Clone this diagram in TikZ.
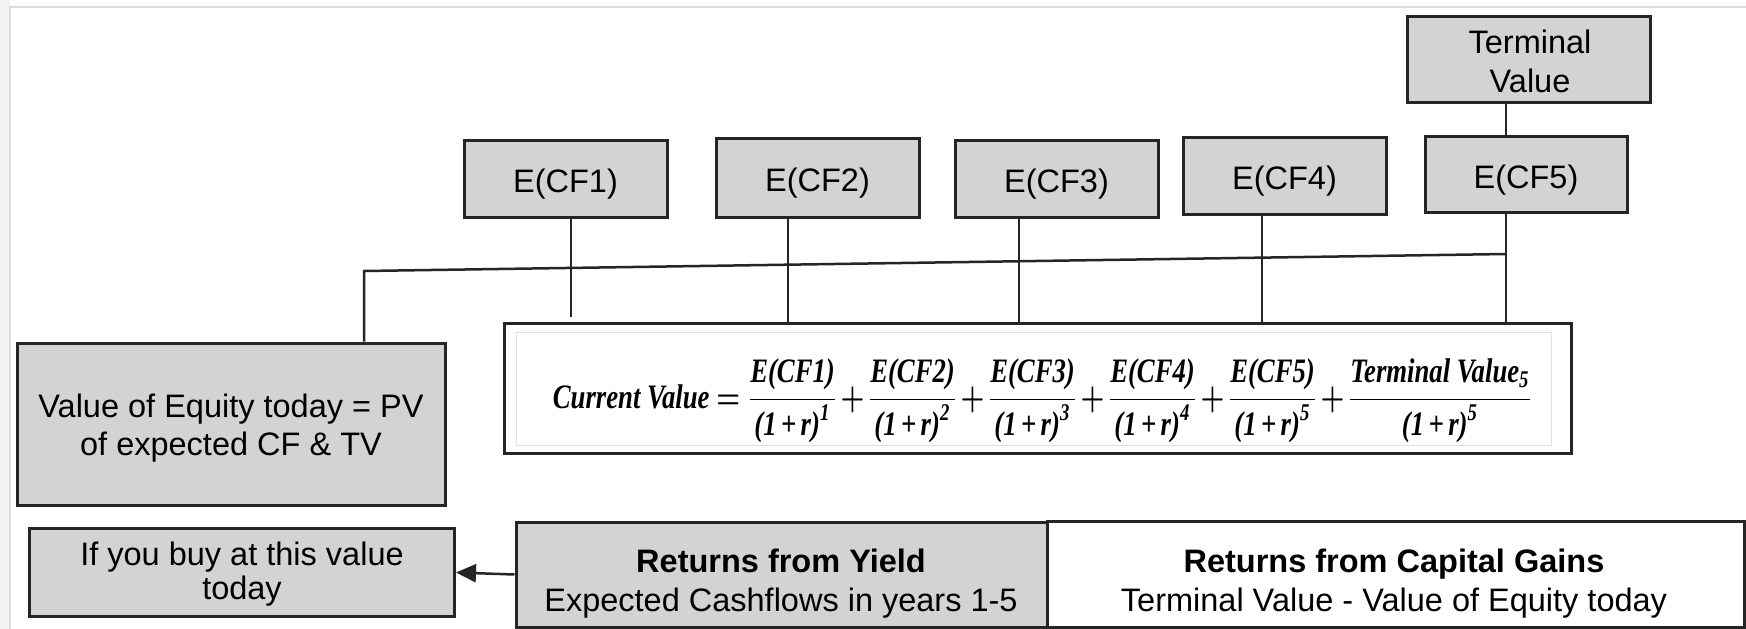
\documentclass[tikz,border=0pt]{standalone}
\usepackage[no-math]{fontspec}
\usepackage{graphicx}
\usepackage{amsmath}
\usetikzlibrary{arrows.meta,calc}
\newfontfamily\arial{Liberation Sans}
\newfontfamily\eqfont{Liberation Serif}
\definecolor{boxgray}{HTML}{D3D3D3}
\definecolor{edge}{HTML}{252525}
\definecolor{framegray}{HTML}{DCDCDC}
\newcommand{\eqt}[1]{\text{\eqfont\bfseries\itshape #1}}
\newcommand{\dcf}[2]{\dfrac{\eqt{#1}}{\eqt{(1\,+\,r)}^{\eqt{#2}}}}

\begin{document}
\begin{tikzpicture}[x=1pt,y=-1pt,
  box/.style={draw=edge, line width=3pt, fill=boxgray, inner sep=0pt},
  wbox/.style={box, fill=white},
  txt/.style={inner sep=0pt, anchor=base, font=\arial\fontsize{32.5}{38}\selectfont},
  btxt/.style={txt, font=\arial\bfseries\fontsize{32.5}{38}\selectfont},
  link/.style={draw=edge, line width=2.5pt},
]
\useasboundingbox (0,0) rectangle (1746,629);
\fill[white] (0,0) rectangle (1746,629);
\fill[black!5] (0,0) rectangle (10,629);
\draw[framegray, line width=1.5pt] (10,629) -- (10,7) -- (1746,7);

% top row: expected cash flows and terminal value
\node[box, minimum width=243pt, minimum height=86pt] (tv)  at (1528.5,59)  {};
\node[box, minimum width=202pt, minimum height=76pt] (cf5) at (1526,174)   {};
\node[box, minimum width=203pt, minimum height=77pt] (cf4) at (1284.5,175.5) {};
\node[box, minimum width=203pt, minimum height=77pt] (cf3) at (1056.5,178.5) {};
\node[box, minimum width=203pt, minimum height=79pt] (cf2) at (817.5,177.5) {};
\node[box, minimum width=203pt, minimum height=77pt] (cf1) at (565.5,178.5) {};
\node[txt] (tv-a) at (1530,53.5) {Terminal};
\node[txt] (tv-b) at (1530,92) {Value};
\node[txt] (cf5-t) at (1526,188) {E(CF5)};
\node[txt] (cf4-t) at (1284.5,189.5) {E(CF4)};
\node[txt] (cf3-t) at (1056.5,192.5) {E(CF3)};
\node[txt] (cf2-t) at (817.5,191.5) {E(CF2)};
\node[txt] (cf1-t) at (565.5,192.5) {E(CF1)};

% valuation formula
\node[wbox, minimum width=1067pt, minimum height=130pt] (eq) at (1037.5,388) {};
\draw[black!12, line width=1pt] (516,332) rectangle (1551,445);
\node[inner sep=0pt] (eqtxt) at (1043,401) {\resizebox*{980pt}{84pt}{\boldmath
  \thickmuskip=4mu \medmuskip=1.5mu $
  \eqt{Current Value} = \dcf{E(CF1)}{1} + \dcf{E(CF2)}{2} + \dcf{E(CF3)}{3}
  + \dcf{E(CF4)}{4} + \dcf{E(CF5)}{5} + \dfrac{\eqt{Terminal Value}_{\eqt{5}}}{\eqt{(1\,+\,r)}^{\eqt{5}}}$}};

% left column
\node[box, minimum width=428pt, minimum height=162pt] (ve) at (231,424) {};
\node[txt] (ve-a) at (231,417) {Value of Equity today = PV};
\node[txt] (ve-b) at (231,455) {of expected CF \& TV};
\node[box, minimum width=425pt, minimum height=88pt] (buy) at (242,572.5) {};
\node[txt] (buy-a) at (242,565) {If you buy at this value};
\node[txt] (buy-b) at (242,599) {today};

% bottom row: sources of return
\node[box, minimum width=531pt, minimum height=105pt] (yield) at (781.5,574.5) {};
\node[btxt] (yield-a) at (781,572) {Returns from Yield};
\node[txt] (yield-b) at (781,611) {Expected Cashflows in years 1-5};
\node[wbox, minimum width=697pt, minimum height=106pt] (capg) at (1395.5,574) {};
\node[btxt] (capg-a) at (1394,572) {Returns from Capital Gains};
\node[txt] (capg-b) at (1394,611) {Terminal Value - Value of Equity today};

% connector anchors below each box
\coordinate (k1) at ([xshift=5.5pt]cf1.south);
\coordinate (k2) at ([xshift=-29.5pt]cf2.south);
\coordinate (k3) at ([xshift=-37.5pt]cf3.south);
\coordinate (k4) at ([xshift=-22.5pt]cf4.south);
\coordinate (k5) at ([xshift=-20pt]cf5.south);
\coordinate (hl) at (364,271);
\coordinate (hr) at (1506,254);

\draw[link] ([xshift=-22.5pt]tv.south) -- ([xshift=-22.5pt]tv.south |- cf5.north);
\draw[link] (k1) -- ($(k1 |- eq.north)+(0,-5)$);
\draw[link] (k2) -- (k2 |- eq.north);
\draw[link] (k3) -- (k3 |- eq.north);
\draw[link] (k4) -- (k4 |- eq.north);
\draw[link] (k5) -- (k5 |- eq.north);
\draw[link] (hr) -- (hl) -- (hl |- ve.north);

\draw[link, -{Triangle[length=20pt,width=18pt]}] (yield.west) -- (buy.east);
\end{tikzpicture}
\end{document}
